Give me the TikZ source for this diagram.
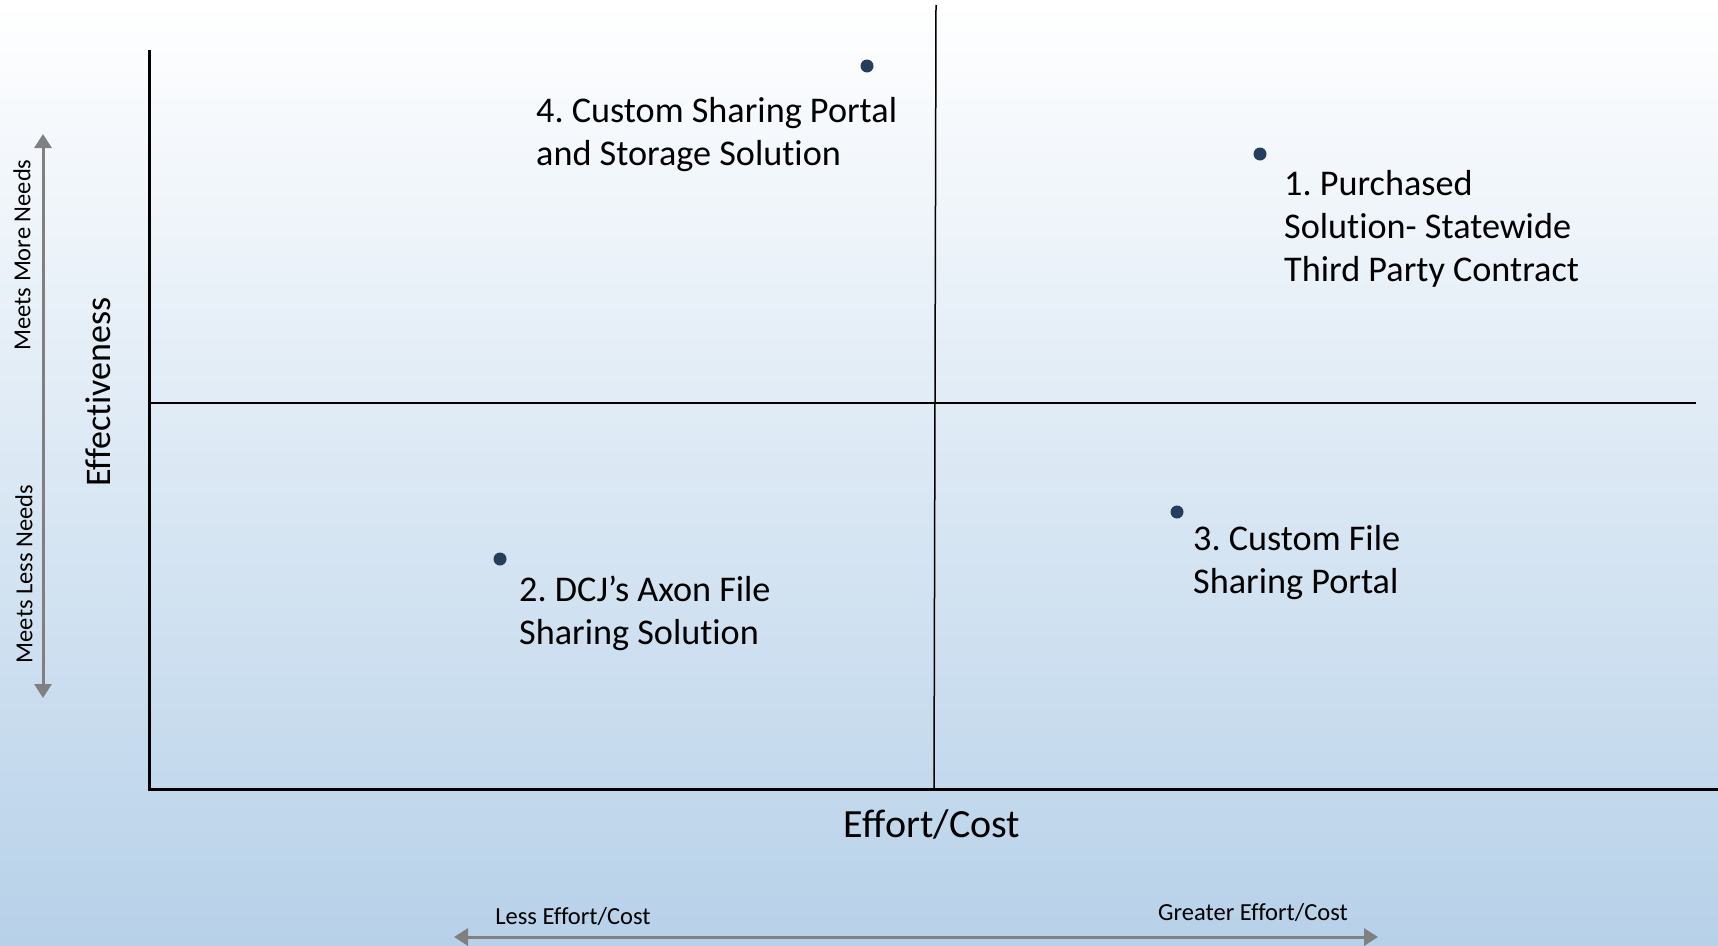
\documentclass[tikz,border=0pt]{standalone}
\usepackage{fontspec}
\setmainfont[Ligatures={NoCommon}]{Carlito}
\usetikzlibrary{arrows.meta}
\definecolor{bgblue}{RGB}{183,209,233}
\definecolor{dotblue}{RGB}{36,62,92}
\definecolor{arrowgray}{RGB}{128,128,128}
\frenchspacing
\begin{document}
\begin{tikzpicture}[x=1pt,y=-1pt,
  optlabel/.style={inner sep=0pt, align=left, font=\fontsize{36.2}{43}\selectfont},
  axislabel/.style={inner sep=0pt, font=\fontsize{40}{46}\selectfont},
  scalelabel/.style={inner sep=0pt, font=\fontsize{24.5}{28}\selectfont},
  optdot/.style={circle, fill=dotblue, inner sep=0pt, minimum size=13pt},
  scalearrow/.style={arrowgray, line width=3pt, {Triangle[length=14pt,width=17pt]}-{Triangle[length=14pt,width=17pt]}}]
% background
\shade[top color=white, bottom color=bgblue] (0,0) rectangle (1718,945);
\useasboundingbox (0,0) rectangle (1718,945);

% axes
\coordinate (ytop) at (149,50);
\coordinate (origin) at (149,789);
\coordinate (xend) at (1718,789);
\draw[line width=3pt] (ytop) -- (origin) -- (xend);

% quadrant dividers
\coordinate (vtop) at (936,5);
\coordinate (vbot) at (934,789);
\coordinate (hleft) at (149,403);
\coordinate (hright) at (1696,403);
\draw[line width=1.5pt] (vtop) -- (vbot);
\draw[line width=1.5pt] (hleft) -- (hright);

% options
\node[optdot] (d4) at (867,66) {};
\node[optdot] (d1) at (1260,154) {};
\node[optdot] (d2) at (500,559) {};
\node[optdot] (d3) at (1177,512) {};

\node[optlabel, anchor=west] (t4) at (536,135) {4. Custom Sharing Portal\\and Storage Solution};
\node[optlabel, anchor=west] (t1) at (1284,229) {1. Purchased\\Solution- Statewide\\Third Party Contract};
\node[optlabel, anchor=west] (t3) at (1193,563) {3. Custom File\\Sharing Portal};
\node[optlabel, anchor=west] (t2) at (519,613) {2. DCJ’s Axon File\\Sharing Solution};

% axis titles
\node[axislabel] (xlab) at (932,824) {Effort/Cost};
\node[axislabel, font=\fontsize{36}{42}\selectfont, rotate=90] (ylab) at (98,392) {Effectiveness};

% effectiveness scale
\coordinate (ea) at (43,134);
\coordinate (eb) at (43,698);
\draw[scalearrow] (ea) -- (eb);
\node[scalelabel, rotate=90] (more) at (22,255) {Meets More Needs};
\node[scalelabel, rotate=90] (less) at (24,574) {Meets Less Needs};

% effort scale
\coordinate (ca) at (454,937);
\coordinate (cb) at (1378,937);
\draw[scalearrow] (ca) -- (cb);
\node[scalelabel] (lesscost) at (573,917) {Less Effort/Cost};
\node[scalelabel] (morecost) at (1253,913) {Greater Effort/Cost};
\end{tikzpicture}
\end{document}
